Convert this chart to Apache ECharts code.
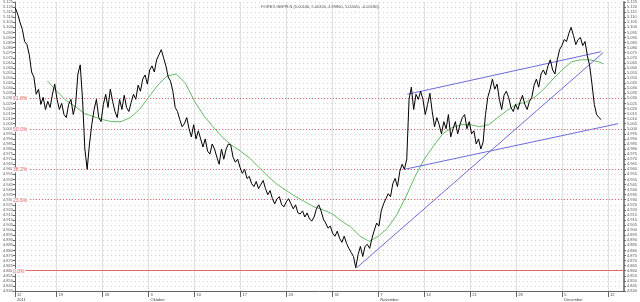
<!DOCTYPE html>
<html><head><meta charset="utf-8">
<script src="https://cdn.jsdelivr.net/npm/echarts@6/dist/echarts.min.js"></script>
<style>html,body{margin:0;padding:0;background:#fff}#c{width:640px;height:302px}</style>
</head><body><div id="c"></div>
<script>
const titleText = 'FOREX GBPPLN (5.00140, 5.00320, 4.99860, 5.00020, -0.00180)';
// x unit: trading days from Monday 12 Sep 2011; samples roughly every 6 hours
const startDay = 0.5;
const stepDay = 0.252;
const closes = [
5.119,5.113,5.105,5.098,5.086,5.083,5.073,5.056,5.051,5.034,5.039,5.024,
5.031,5.019,5.027,5.021,5.034,5.044,5.029,5.019,5.025,5.014,5.011,5.024,
5.029,5.014,5.024,5.054,5.063,5.029,4.980,4.960,4.985,5.004,5.019,5.029,
5.011,5.007,5.024,5.034,5.021,5.039,5.027,5.017,5.011,5.029,5.019,5.033,
5.021,5.017,5.026,5.034,5.029,5.043,5.037,5.049,5.053,5.044,5.058,5.062,
5.056,5.068,5.073,5.078,5.070,5.062,5.051,5.047,5.037,5.021,5.017,5.009,
5.002,5.005,5.011,5.000,4.992,5.004,4.990,4.998,4.990,4.982,4.990,4.978,
4.975,4.985,4.980,4.972,4.965,4.980,4.970,4.980,4.985,4.984,4.972,4.967,
4.970,4.962,4.956,4.960,4.951,4.953,4.946,4.943,4.948,4.941,4.945,4.949,
4.941,4.935,4.939,4.931,4.926,4.931,4.933,4.925,4.923,4.928,4.931,4.926,
4.921,4.925,4.917,4.916,4.919,4.913,4.917,4.911,4.909,4.913,4.921,4.925,
4.919,4.911,4.907,4.902,4.904,4.897,4.894,4.899,4.892,4.888,4.894,4.887,
4.882,4.878,4.874,4.863,4.876,4.884,4.874,4.884,4.886,4.882,4.892,4.900,
4.907,4.904,4.919,4.926,4.931,4.936,4.933,4.946,4.951,4.943,4.958,4.965,
4.960,4.970,5.029,5.041,5.019,5.034,5.029,5.037,5.029,5.014,5.024,5.035,
5.017,5.002,5.011,5.004,4.995,5.007,5.000,5.014,4.992,5.000,5.007,4.995,
5.004,5.011,5.014,5.000,5.007,4.995,4.998,4.985,4.990,4.980,4.987,5.014,
5.031,5.039,5.049,5.039,5.044,5.029,5.019,5.033,5.037,5.031,5.021,5.017,
5.024,5.019,5.027,5.033,5.024,5.019,5.027,5.031,5.043,5.049,5.041,5.054,
5.058,5.053,5.062,5.068,5.058,5.054,5.068,5.078,5.082,5.088,5.086,5.094,
5.100,5.092,5.083,5.088,5.090,5.082,5.086,5.072,5.062,5.044,5.024,5.014,
5.011,5.009
];
const maDays = [4,5,6,7,8,9,10,11,12,13,14,15,16,17,18,19,20,21,22,23,24,25,26,27,28,29,30,31,32,33,34,35,36,37,38,39,40,41,42,43,44,45,46,47,48,49,50,51,52,53,54,55,56,57,58,59,60,61,62,63,64,64.5];
const maValues = [5.047,5.037,5.028,5.022,5.015,5.012,5.009,5.007,5.007,5.011,5.019,5.031,5.043,5.052,5.054,5.045,5.027,5.013,5.002,4.992,4.984,4.978,4.971,4.962,4.953,4.945,4.939,4.933,4.928,4.923,4.920,4.916,4.909,4.903,4.894,4.889,4.894,4.902,4.915,4.933,4.953,4.970,4.983,4.995,5.001,5.004,5.004,5.002,5.004,5.011,5.018,5.024,5.026,5.031,5.039,5.049,5.058,5.066,5.068,5.068,5.066,5.064];
const trendA = [[37.65,4.863],[64.46,5.075]];
const trendB = [[43.16,5.034],[64.24,5.076]];
const trendC = [[42.84,4.960],[66.08,5.005]];
const fibLow = 4.863, fibHigh = 5.127;
const fibRatios = [0, 0.236, 0.382, 0.5, 0.618];
const fibNames = ['0.0%','23.6%','38.2%','50.0%','61.8%'];
const weekDays = [0.46,5,10,15,20,25,30,35,40,45,50,55,60,65];
const weekLabels = ['12','19','26','3','10','17','24','31','7','14','21','28','5','12'];
const monthLabels = ['2011','','','Oktober','','','','','November','','','','December',''];
const yMin = 4.840, yMax = 5.125, yStep = 0.005;
const xMin = 0.46, xMax = 66.73;

const priceData = closes.map((v,i)=>[startDay + i*stepDay, v]);
const maData = maDays.map((d,i)=>[d, maValues[i]]);
const fibData = fibRatios.map((r,i)=>({
  yAxis: fibLow + (fibHigh-fibLow)*r, name: fibNames[i],
  lineStyle: {type: r===0 ? 'solid' : [1,2], color: '#e06a6a', width: 1}
}));
function wIdx(v){let b=0,bd=1e9;weekDays.forEach((d,i)=>{const dd=Math.abs(d-v);if(dd<bd){bd=dd;b=i;}});return b;}
const font = 'Liberation Sans';
const chart = echarts.init(document.getElementById('c'), null, {renderer:'canvas'});
const trendStyle = {color:'#6b6bdc', width:1};
chart.setOption({
  animation:false,
  backgroundColor:'#fff',
  title:{text:titleText, left:'center', top:0, textStyle:{fontSize:4, fontWeight:'normal', color:'#555', fontFamily:font}},
  grid:{left:13, right:14, top:2, bottom:9},
  xAxis:{type:'value', min:xMin, max:xMax,
    axisLine:{show:true, lineStyle:{color:'#666', width:1}},
    axisTick:{show:true, customValues:weekDays, length:6, lineStyle:{color:'#666'}},
    axisLabel:{customValues:weekDays, fontSize:4, color:'#444', fontFamily:font, align:'left', margin:1, padding:[0,0,0,2], lineHeight:5,
      formatter:(v)=>{const i=wIdx(v);return monthLabels[i]? weekLabels[i]+'\n'+monthLabels[i] : weekLabels[i];}},
    splitLine:{show:true, lineStyle:{color:'#e0e0e0', width:1}}},
  yAxis:[
    {type:'value', min:yMin, max:yMax, interval:yStep, position:'left',
     axisLine:{show:true, lineStyle:{color:'#666'}}, axisTick:{show:true, length:2, lineStyle:{color:'#666'}},
     axisLabel:{fontSize:4, color:'#555', margin:2, fontFamily:font, formatter:v=>v.toFixed(3)},
     splitLine:{show:true, lineStyle:{color:'#d6d6d6', type:[1,3], width:1}}},
    {type:'value', min:yMin, max:yMax, interval:yStep, position:'right',
     axisLine:{show:true, lineStyle:{color:'#888', width:2}}, axisTick:{show:true, length:2, lineStyle:{color:'#666'}},
     axisLabel:{fontSize:4, color:'#555', margin:3, fontFamily:font, formatter:v=>v.toFixed(3)},
     splitLine:{show:false}}
  ],
  series:[
    {type:'line', data:maData, showSymbol:false, lineStyle:{color:'#66bb66', width:1}, z:3},
    {type:'line', data:priceData, showSymbol:false, lineStyle:{color:'#000', width:1}, z:5,
     markLine:{silent:true, symbol:'none', data:fibData,
       label:{show:true, formatter:'{b}', position:'insideStartTop', distance:-3, fontSize:5, color:'#e05a5a', fontFamily:font, backgroundColor:'#fff', padding:[0,1]}}},
    {type:'line', data:trendA, showSymbol:false, lineStyle:trendStyle, z:4},
    {type:'line', data:trendB, showSymbol:false, lineStyle:trendStyle, z:4},
    {type:'line', data:trendC, showSymbol:false, lineStyle:trendStyle, z:4}
  ]
});
</script></body></html>
